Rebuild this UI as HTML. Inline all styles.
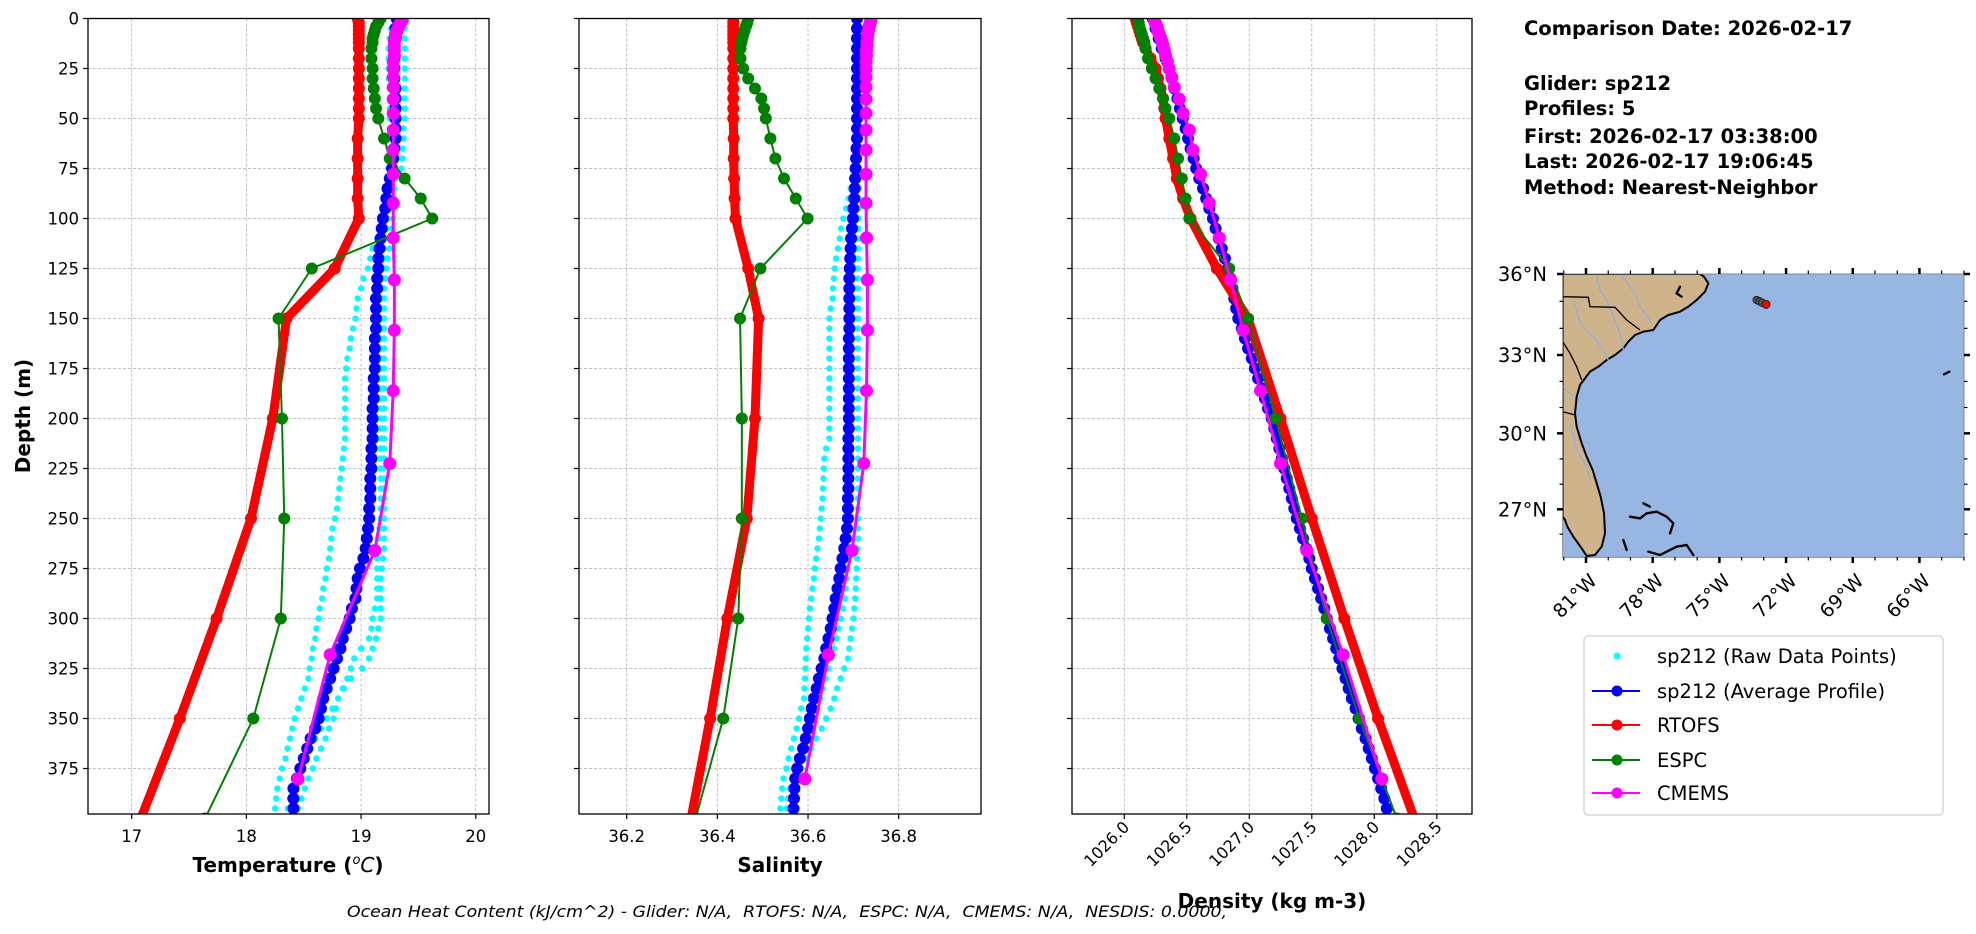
<!DOCTYPE html>
<html><head><meta charset="utf-8">
<style>
html,body{margin:0;padding:0;background:#fff;}
svg{display:block;font-family:"DejaVu Sans","Liberation Sans",sans-serif;}
</style></head>
<body>
<svg id="fig" xmlns="http://www.w3.org/2000/svg" width="1976" height="934" viewBox="0 0 1976 934">
<rect x="0" y="0" width="1976" height="934" fill="#fff"/>
<defs>
<clipPath id="c1"><rect x="88" y="18.5" width="401" height="795.5"/></clipPath>
<clipPath id="c2"><rect x="579" y="18.5" width="402" height="795.5"/></clipPath>
<clipPath id="c3"><rect x="1072" y="18.5" width="400" height="795.5"/></clipPath>
<clipPath id="cm"><rect x="248" y="72" width="1204" height="850"/></clipPath>
</defs>
<g id="panels"></g>
<g id="info" font-weight="bold" font-size="19.5" fill="#000">
<text x="1524" y="35">Comparison Date: 2026-02-17</text>
<text x="1524" y="90">Glider: sp212</text>
<text x="1524" y="115">Profiles: 5</text>
<text x="1524" y="143">First: 2026-02-17 03:38:00</text>
<text x="1524" y="168">Last: 2026-02-17 19:06:45</text>
<text x="1524" y="194">Method: Nearest-Neighbor</text>
</g>
<g>
<g transform="translate(1480,250) scale(0.33333)">
<rect x="248" y="72" width="1204" height="850" fill="#97b6e1"/>
<g clip-path="url(#cm)">
<path d="M248,72 L660,72 L672,80 L685,100 L675,125 L650,150 L625,170 L600,185 L565,195 L540,210 L520,240 L490,245 L465,255 L445,275 L430,295 L405,315 L380,330 L355,350 L330,365 L315,385 L300,405 L290,440 L285,490 L290,530 L305,580 L320,620 L338,660 L350,700 L362,740 L372,790 L375,850 L365,890 L345,915 L320,918 L305,895 L280,860 L262,830 L255,810 L248,800 Z" fill="#cfb38b" stroke="#000" stroke-width="6" stroke-linejoin="round"/>
<g fill="none" stroke="#8fb0dc" stroke-width="4">
<path d="M350,75 L360,120 L385,160 L400,200 L420,250 L430,300"/>
<path d="M425,75 L465,130 L480,170 L515,220"/>
<path d="M280,150 L300,220 L340,260 L370,300 L385,330"/>
<path d="M250,410 L280,440"/>
<path d="M270,520 L290,600 L320,650 L330,690"/>
</g>
<g fill="none" stroke="#000" stroke-width="4">
<path d="M248,140 L325,142 L330,170 L405,172 L440,210 L480,240"/>
<path d="M248,275 L270,310 L290,350 L305,390"/>
<path d="M248,485 L285,495"/>
</g>
<g fill="none" stroke="#000" stroke-width="7" stroke-linecap="round">
<path d="M450,800 L480,805 L500,790 L530,785 L560,800 L580,820 L570,850"/>
<path d="M490,760 L510,770"/>
<path d="M430,870 L440,900"/>
<path d="M505,905 L540,915 L590,890 L620,885 L640,915"/>
<path d="M1392,373 L1408,365"/>
<path d="M600,110 L590,130 L605,140"/>
</g>
<g stroke="#222" stroke-width="3">
<circle cx="830" cy="150" r="11" fill="#555"/>
<circle cx="838" cy="154" r="11" fill="#555"/>
<circle cx="846" cy="158" r="11" fill="#555"/>
<circle cx="858" cy="163" r="12" fill="#f00"/>
</g>
</g>
<rect x="248" y="72" width="1204" height="850" fill="none" stroke="#888" stroke-width="3"/>
</g>
<g id="mapticks"></g>
</g>
<g>
<rect x="1584" y="636" width="359" height="179" rx="4" fill="#fff" stroke="#d0d0d0" stroke-width="1.3"/>
<g font-size="19.5" fill="#000">
<g><circle cx="1617" cy="656" r="3.5" fill="#0ff"/><text x="1657" y="663">sp212 (Raw Data Points)</text></g>
<g><line x1="1592" y1="691" x2="1640" y2="691" stroke="#00f" stroke-width="2"/><circle cx="1617" cy="691" r="5.5" fill="#00f"/><text x="1657" y="698">sp212 (Average Profile)</text></g>
<g><line x1="1592" y1="725" x2="1640" y2="725" stroke="#f00" stroke-width="2"/><circle cx="1617" cy="725" r="5.5" fill="#f00"/><text x="1657" y="732">RTOFS</text></g>
<g><line x1="1592" y1="760" x2="1640" y2="760" stroke="#008000" stroke-width="2"/><circle cx="1617" cy="760" r="5.5" fill="#008000"/><text x="1657" y="767">ESPC</text></g>
<g><line x1="1592" y1="793" x2="1640" y2="793" stroke="#f0f" stroke-width="2"/><circle cx="1617" cy="793" r="5.5" fill="#f0f"/><text x="1657" y="800">CMEMS</text></g>
</g>
</g>
<text x="347" y="917" font-size="16" font-style="italic" textLength="880" lengthAdjust="spacingAndGlyphs" xml:space="preserve">Ocean Heat Content (kJ/cm^2) - Glider: N/A,  RTOFS: N/A,  ESPC: N/A,  CMEMS: N/A,  NESDIS: 0.0000,</text>
</svg>
<script>
// ---------------- DATA ----------------
const modelDepths = [0,2,4,6,8,10,12,15,20,25,30,35,40,45,50,60,70,80,90,100,125,150,200,250,300,350,400];
const cmemsDepths = [0.49,1.54,2.65,3.82,5.08,6.44,7.93,9.57,11.4,13.47,15.81,18.5,21.6,25.2,29.4,34.4,40.3,47.4,55.8,65.8,77.9,92.3,109.7,130.7,155.9,186.1,222.5,266.0,318.1,380.2];
const gliderDepths = [0,5,10,15,20,25,30,35,40,45,50,55,60,65,70,75,80,85,90,95,100,105,110,115,120,125,130,135,140,145,150,155,160,165,170,175,180,185,190,195,200,205,210,215,220,225,230,235,240,245,250,255,260,265,270,275,280,285,290,295,300,305,310,315,320,325,330,335,340,345,350,355,360,365,370,375,380,385,390,395];

// Temperature
const rtofsTemp = [18.97,18.98,18.98,18.98,18.98,18.98,18.98,18.98,18.98,18.98,18.98,18.98,18.98,18.98,18.98,18.97,18.97,18.97,18.97,18.98,18.77,18.35,18.23,18.04,17.74,17.42,17.08];
const espcTemp = [19.17,19.15,19.13,19.12,19.11,19.10,19.10,19.09,19.09,19.10,19.10,19.11,19.12,19.13,19.15,19.20,19.25,19.38,19.52,19.62,18.57,18.28,18.31,18.33,18.30,18.06,17.64];
const cmemsTemp = [19.36,19.35,19.34,19.33,19.32,19.31,19.30,19.30,19.29,19.29,19.29,19.29,19.28,19.28,19.28,19.28,19.28,19.28,19.28,19.28,19.28,19.28,19.28,19.29,19.29,19.28,19.25,19.12,18.73,18.45];
const gliderTemp = [19.31,19.30,19.29,19.29,19.29,19.29,19.29,19.30,19.30,19.30,19.30,19.30,19.30,19.29,19.28,19.27,19.25,19.23,19.22,19.21,19.19,19.18,19.17,19.16,19.15,19.15,19.14,19.14,19.13,19.13,19.13,19.13,19.12,19.12,19.12,19.12,19.11,19.11,19.11,19.10,19.10,19.10,19.10,19.09,19.09,19.09,19.08,19.08,19.08,19.07,19.07,19.06,19.05,19.04,19.02,18.99,18.97,18.96,18.95,18.92,18.90,18.87,18.84,18.82,18.79,18.76,18.73,18.70,18.67,18.65,18.63,18.60,18.56,18.53,18.50,18.47,18.44,18.41,18.41,18.41];
const rawTempA = [19.30,19.26,19.25,19.24,19.24,19.24,19.24,19.25,19.25,19.25,19.25,19.25,19.25,19.24,19.24,19.24,19.23,19.23,19.23,19.22,19.20,19.17,19.14,19.10,19.08,19.06,19.02,19.00,18.97,18.96,18.95,18.93,18.91,18.90,18.88,18.87,18.86,18.86,18.86,18.86,18.86,18.86,18.86,18.85,18.84,18.83,18.82,18.81,18.80,18.79,18.77,18.75,18.74,18.73,18.72,18.70,18.69,18.67,18.66,18.64,18.63,18.61,18.60,18.58,18.57,18.55,18.54,18.51,18.48,18.45,18.42,18.40,18.38,18.36,18.34,18.31,18.29,18.27,18.26,18.25];
const rawTempB = [19.39,19.38,19.38,19.38,19.38,19.38,19.38,19.38,19.38,19.38,19.38,19.37,19.37,19.36,19.36,19.35,19.30,19.29,19.29,19.28,19.28,19.27,19.26,19.25,19.23,19.22,19.21,19.20,19.20,19.20,19.20,19.20,19.20,19.20,19.20,19.20,19.20,19.20,19.20,19.20,19.20,19.20,19.20,19.20,19.20,19.20,19.20,19.20,19.20,19.20,19.20,19.20,19.20,19.20,19.19,19.18,19.17,19.17,19.17,19.17,19.17,19.15,19.13,19.10,19.07,19.01,18.91,18.85,18.80,18.78,18.76,18.72,18.69,18.65,18.61,18.58,18.54,18.51,18.48,18.45];
const rawTempC = [19.32,19.30,19.28,19.27,19.27,19.27,19.28,19.28,19.28,19.28,19.28,19.28,19.28,19.28,19.28,19.28,19.26,19.25,19.25,19.24,19.23,19.22,19.21,19.20,19.19,19.18,19.18,19.17,19.17,19.17,19.17,19.17,19.17,19.17,19.17,19.17,19.17,19.17,19.17,19.17,19.17,19.17,19.17,19.17,19.17,19.17,19.17,19.17,19.17,19.17,19.17,19.16,19.15,19.14,19.14,19.14,19.14,19.14,19.14,19.12,19.10,19.09,19.07,19.00,18.94,18.91,18.88,18.84,18.80,18.75,18.70,18.65,18.60,18.56,18.52,18.48,18.45,18.41,18.38,18.36];

// Salinity
const rtofsSal = [36.435,36.435,36.435,36.435,36.435,36.435,36.435,36.435,36.435,36.435,36.435,36.435,36.435,36.435,36.435,36.436,36.436,36.437,36.438,36.440,36.468,36.491,36.483,36.465,36.422,36.384,36.342];
const espcSal = [36.468,36.466,36.463,36.460,36.457,36.455,36.453,36.451,36.451,36.457,36.468,36.483,36.497,36.503,36.507,36.517,36.528,36.547,36.573,36.599,36.495,36.450,36.454,36.454,36.446,36.413,36.352];
const cmemsSal = [36.739,36.738,36.737,36.735,36.734,36.733,36.732,36.731,36.730,36.730,36.729,36.729,36.728,36.728,36.728,36.728,36.728,36.728,36.728,36.728,36.728,36.728,36.729,36.731,36.731,36.729,36.723,36.697,36.645,36.593];
const gliderSal = [36.708,36.708,36.708,36.708,36.708,36.708,36.708,36.708,36.708,36.708,36.708,36.708,36.708,36.707,36.706,36.705,36.704,36.703,36.702,36.700,36.699,36.697,36.695,36.694,36.693,36.692,36.691,36.691,36.691,36.691,36.691,36.691,36.690,36.690,36.690,36.690,36.690,36.690,36.690,36.690,36.690,36.690,36.689,36.689,36.689,36.689,36.689,36.689,36.688,36.688,36.688,36.686,36.683,36.680,36.676,36.672,36.669,36.665,36.661,36.658,36.654,36.650,36.645,36.640,36.636,36.630,36.624,36.619,36.613,36.608,36.604,36.600,36.595,36.589,36.582,36.576,36.572,36.570,36.569,36.568];
const rawSalA = [36.704,36.703,36.703,36.703,36.703,36.703,36.703,36.703,36.703,36.703,36.702,36.702,36.702,36.701,36.700,36.699,36.697,36.694,36.690,36.684,36.678,36.673,36.670,36.666,36.662,36.659,36.657,36.655,36.654,36.650,36.647,36.647,36.647,36.647,36.647,36.647,36.647,36.647,36.647,36.647,36.647,36.647,36.647,36.640,36.636,36.635,36.634,36.633,36.632,36.630,36.628,36.626,36.624,36.621,36.618,36.615,36.613,36.610,36.607,36.604,36.602,36.600,36.598,36.596,36.595,36.594,36.593,36.592,36.591,36.585,36.580,36.575,36.569,36.563,36.557,36.552,36.546,36.543,36.541,36.539];
const rawSalB = [36.712,36.712,36.712,36.712,36.712,36.712,36.712,36.712,36.712,36.712,36.712,36.712,36.712,36.712,36.712,36.712,36.712,36.712,36.711,36.711,36.711,36.711,36.711,36.710,36.710,36.710,36.710,36.710,36.710,36.710,36.710,36.710,36.710,36.710,36.710,36.710,36.710,36.710,36.710,36.710,36.710,36.710,36.710,36.710,36.710,36.710,36.710,36.710,36.710,36.710,36.710,36.710,36.710,36.709,36.708,36.707,36.706,36.705,36.704,36.702,36.700,36.697,36.694,36.691,36.688,36.680,36.672,36.664,36.658,36.650,36.640,36.630,36.618,36.607,36.596,36.585,36.575,36.565,36.560,36.556];
const rawSalC = [36.706,36.706,36.706,36.706,36.706,36.706,36.706,36.706,36.706,36.706,36.706,36.706,36.706,36.706,36.705,36.704,36.702,36.700,36.698,36.696,36.694,36.693,36.692,36.692,36.691,36.691,36.691,36.691,36.691,36.692,36.692,36.692,36.693,36.693,36.693,36.693,36.693,36.693,36.693,36.693,36.693,36.693,36.693,36.693,36.693,36.693,36.693,36.693,36.693,36.693,36.693,36.693,36.692,36.691,36.689,36.687,36.685,36.683,36.681,36.677,36.672,36.667,36.663,36.657,36.651,36.645,36.639,36.633,36.627,36.620,36.612,36.603,36.595,36.587,36.579,36.572,36.565,36.560,36.556,36.553];

// Density
const rtofsDens = [1026.09,1026.10,1026.11,1026.12,1026.13,1026.14,1026.15,1026.17,1026.21,1026.25,1026.27,1026.29,1026.31,1026.32,1026.33,1026.36,1026.39,1026.42,1026.47,1026.53,1026.74,1026.99,1027.25,1027.50,1027.76,1028.03,1028.32];
const espcDens = [1026.11,1026.115,1026.12,1026.13,1026.14,1026.15,1026.16,1026.17,1026.19,1026.22,1026.25,1026.28,1026.31,1026.33,1026.36,1026.40,1026.43,1026.46,1026.49,1026.52,1026.84,1026.99,1027.21,1027.42,1027.62,1027.88,1028.18];
const cmemsDens = [1026.24,1026.245,1026.25,1026.26,1026.265,1026.27,1026.28,1026.29,1026.30,1026.31,1026.32,1026.33,1026.345,1026.36,1026.38,1026.40,1026.44,1026.47,1026.52,1026.55,1026.61,1026.68,1026.76,1026.85,1026.95,1027.09,1027.25,1027.46,1027.75,1028.06];
const gliderDens = [1026.227,1026.25,1026.275,1026.30,1026.33,1026.36,1026.38,1026.40,1026.425,1026.445,1026.468,1026.49,1026.51,1026.53,1026.555,1026.575,1026.60,1026.63,1026.655,1026.68,1026.709,1026.73,1026.755,1026.78,1026.805,1026.829,1026.85,1026.865,1026.88,1026.895,1026.912,1026.94,1026.965,1026.99,1027.02,1027.045,1027.07,1027.10,1027.125,1027.15,1027.179,1027.20,1027.22,1027.24,1027.26,1027.28,1027.30,1027.32,1027.34,1027.36,1027.38,1027.405,1027.43,1027.455,1027.48,1027.50,1027.525,1027.55,1027.575,1027.60,1027.62,1027.645,1027.67,1027.695,1027.72,1027.745,1027.77,1027.795,1027.82,1027.85,1027.874,1027.90,1027.93,1027.955,1027.98,1028.005,1028.03,1028.055,1028.08,1028.10];
const rawDensA = [1026.22,1026.24,1026.27,1026.29,1026.32,1026.35,1026.37,1026.39,1026.42,1026.44,1026.46,1026.48,1026.50,1026.52,1026.55,1026.57,1026.59,1026.62,1026.65,1026.67,1026.70,1026.72,1026.75,1026.77,1026.80,1026.82,1026.84,1026.86,1026.87,1026.89,1026.90,1026.93,1026.96,1026.98,1027.01,1027.04,1027.06,1027.09,1027.12,1027.14,1027.17,1027.19,1027.21,1027.23,1027.25,1027.27,1027.29,1027.31,1027.33,1027.35,1027.37,1027.40,1027.42,1027.45,1027.47,1027.49,1027.52,1027.54,1027.57,1027.59,1027.61,1027.64,1027.66,1027.69,1027.71,1027.74,1027.76,1027.79,1027.81,1027.84,1027.87,1027.89,1027.92,1027.95,1027.97,1028.00,1028.02,1028.05,1028.07,1028.09];
const rawDensB = [1026.24,1026.26,1026.29,1026.31,1026.34,1026.37,1026.39,1026.41,1026.43,1026.45,1026.48,1026.50,1026.52,1026.54,1026.56,1026.59,1026.61,1026.64,1026.66,1026.69,1026.72,1026.74,1026.77,1026.79,1026.82,1026.84,1026.86,1026.88,1026.89,1026.91,1026.93,1026.95,1026.98,1027.00,1027.03,1027.06,1027.08,1027.11,1027.14,1027.16,1027.19,1027.21,1027.23,1027.25,1027.27,1027.29,1027.31,1027.33,1027.35,1027.37,1027.39,1027.42,1027.44,1027.47,1027.49,1027.51,1027.54,1027.56,1027.59,1027.61,1027.63,1027.66,1027.68,1027.71,1027.73,1027.76,1027.78,1027.81,1027.83,1027.86,1027.89,1027.91,1027.94,1027.97,1027.99,1028.02,1028.04,1028.07,1028.09,1028.11];

// Ticks
const depthTicks = [0,25,50,75,100,125,150,175,200,225,250,275,300,325,350,375];
const tempTicks = [17,18,19,20];
const tempTickLabels = ["17","18","19","20"];
const salTicks = [36.2,36.4,36.6,36.8];
const salTickLabels = ["36.2","36.4","36.6","36.8"];
const densTicks = [1026.0,1026.5,1027.0,1027.5,1028.0,1028.5];
const densTickLabels = ["1026.0","1026.5","1027.0","1027.5","1028.0","1028.5"];
const lonTicks = [-81,-78,-75,-72,-69,-66];
const lonTickLabels = ["81°W","78°W","75°W","72°W","69°W","66°W"];
const latTicks = [36,33,30,27];
const latTickLabels = ["36°N","33°N","30°N","27°N"];

// ---------------- DRAW ----------------
const NS = "http://www.w3.org/2000/svg";
function mk(tag, attrs, parent){ const e=document.createElementNS(NS,tag); for(const k in attrs) e.setAttribute(k,attrs[k]); parent.appendChild(e); return e; }
const TOP=18.5, BOT=814, PXM=2.0;
const yD = d => TOP + d*PXM;
const panelsG = document.getElementById('panels');

const panels = [
 {key:'temperature', x0:88, x1:489, clip:'c1', fx:v=>131.7+(v-17)*114.7, ticks:tempTicks, labels:tempTickLabels, rot:false, ylabels:true, title:'Temperature', titleX:288,
  raw:[rawTempA,rawTempB,rawTempC], glider:gliderTemp, rtofs:rtofsTemp, espc:espcTemp, cmems:cmemsTemp},
 {key:'salinity', x0:579, x1:981, clip:'c2', fx:v=>626.7+(v-36.2)*453.3, ticks:salTicks, labels:salTickLabels, rot:false, ylabels:false, title:'Salinity', titleX:780,
  raw:[rawSalA,rawSalB,rawSalC], glider:gliderSal, rtofs:rtofsSal, espc:espcSal, cmems:cmemsSal},
 {key:'density', x0:1072, x1:1472, clip:'c3', fx:v=>1124.3+(v-1026)*125, ticks:densTicks, labels:densTickLabels, rot:true, ylabels:false, title:'Density (kg m-3)', titleX:1272,
  raw:[rawDensA,rawDensB], glider:gliderDens, rtofs:rtofsDens, espc:espcDens, cmems:cmemsDens}
];

function series(g, name, depths, vals, fx, color, lw, r, withLine){
  const sg = mk('g',{},g);
  
  
  if(withLine){
    const pts = vals.map((v,i)=>fx(v).toFixed(2)+','+yD(depths[i]).toFixed(2)).join(' ');
    const pl = mk('polyline',{points:pts,fill:'none',stroke:color,'stroke-width':lw,'stroke-linejoin':'round'},sg);
    
    
  }
  vals.forEach((v,i)=>{
    const c = mk('circle',{cx:fx(v).toFixed(2),cy:yD(depths[i]).toFixed(2),r:r,fill:color},sg);
    
    
  });
}

panels.forEach(p=>{
  const g = mk('g',{},panelsG);
  
  
  // grid
  const grid = mk('g',{stroke:'#b0b0b0','stroke-width':0.8,'stroke-dasharray':'3,2'},g);
  
  
  depthTicks.forEach(d=>{ mk('line',{x1:p.x0,x2:p.x1,y1:yD(d),y2:yD(d)},grid); });
  p.ticks.forEach(t=>{ mk('line',{x1:p.fx(t),x2:p.fx(t),y1:TOP,y2:BOT},grid); });
  // data
  const dg = mk('g',{'clip-path':'url(#'+p.clip+')'},g);
  p.raw.forEach((arr,k)=>{ series(dg, p.key+'-raw-profile-'+(k+1), gliderDepths, arr, p.fx, '#00ffff', 0, 3.2, false); });
  series(dg, p.key+'-glider-average', gliderDepths, p.glider, p.fx, '#0000ff', 2, 6, true);
  series(dg, p.key+'-rtofs', modelDepths, p.rtofs, p.fx, '#ff0000', 9, 6, true);
  series(dg, p.key+'-espc', modelDepths, p.espc, p.fx, '#008000', 2, 6, true);
  series(dg, p.key+'-cmems', cmemsDepths, p.cmems, p.fx, '#ff00ff', 3, 6.5, true);
  // frame
  const fr = mk('rect',{x:p.x0,y:TOP,width:p.x1-p.x0,height:BOT-TOP,fill:'none',stroke:'#000','stroke-width':1.3},g);
  
  
  // y ticks
  const yt = mk('g',{stroke:'#000','stroke-width':1.2},g);
  
  
  depthTicks.forEach(d=>{ mk('line',{x1:p.x0-5,x2:p.x0,y1:yD(d),y2:yD(d)},yt); });
  if(p.ylabels){
    depthTicks.forEach(d=>{
      const t = mk('text',{x:p.x0-9,y:yD(d)+6,'text-anchor':'end','font-size':16.5},g);
      t.textContent = String(d);
      
      
    });
  }
  // x ticks
  const xt = mk('g',{stroke:'#000','stroke-width':1.2},g);
  
  
  p.ticks.forEach((v,i)=>{
    const x = p.fx(v);
    mk('line',{x1:x,x2:x,y1:BOT,y2:BOT+5},xt);
    let t;
    if(p.rot){
      t = mk('text',{x:x+6,y:BOT+14,'text-anchor':'end','font-size':16,transform:'rotate(-45 '+(x+6)+' '+(BOT+14)+')'},g);
    } else {
      t = mk('text',{x:x,y:BOT+28,'text-anchor':'middle','font-size':16.5},g);
    }
    t.textContent = p.labels[i];
    
    
  });
  // title
  const tt = mk('text',{x:p.titleX,y:p.rot?908:872,'text-anchor':'middle','font-size':20,'font-weight':'bold'},g);
  if(p.key==='temperature'){
    tt.appendChild(document.createTextNode('Temperature ('));
    const s1 = mk('tspan',{'font-style':'italic','font-weight':'normal','font-size':13,dy:-8},tt); s1.textContent='o';
    const s2 = mk('tspan',{'font-style':'italic','font-weight':'normal',dy:8},tt); s2.textContent='C';
    tt.appendChild(document.createTextNode(')'));
  } else { tt.textContent = p.title; }
  
  
});
const yl = mk('text',{x:0,y:0,'text-anchor':'middle','font-size':20,'font-weight':'bold',transform:'translate(30,416) rotate(-90)'},panelsG);
yl.textContent = 'Depth (m)';



// Map ticks
const mt = document.getElementById('mapticks');
const MX0=1563, MX1=1964, MY0=274, MY1=557;
const lonX = lon => 1586 + (lon+81)*22.23;
const merc = lat => Math.log(Math.tan(Math.PI/4 + lat*Math.PI/360));
const latY = lat => 274 + (merc(36)-merc(lat))/(merc(36)-merc(27))*(509.3-274);
const tg = mk('g',{stroke:'#000'},mt);


for(let lon=-82; lon<=-64; lon++){
  const x=lonX(lon); if(x<MX0-0.5||x>MX1+0.5) continue;
  const major = lonTicks.indexOf(lon)>=0; const L = major?6:3.5; const w = major?2.5:1.2;
  mk('line',{x1:x,x2:x,y1:MY1,y2:MY1+L,'stroke-width':w},tg);
  mk('line',{x1:x,x2:x,y1:MY0,y2:MY0-L,'stroke-width':w},tg);
}
for(let lat=25; lat<=36; lat++){
  const y=latY(lat); if(y<MY0-0.5||y>MY1+0.5) continue;
  const major = latTicks.indexOf(lat)>=0; const L = major?6:3.5; const w = major?2.5:1.2;
  mk('line',{x1:MX0,x2:MX0-L,y1:y,y2:y,'stroke-width':w},tg);
  mk('line',{x1:MX1,x2:MX1+L,y1:y,y2:y,'stroke-width':w},tg);
}
lonTicks.forEach((lon,i)=>{
  const x=lonX(lon)+12, y=582;
  const t = mk('text',{x:x,y:y,'text-anchor':'end','font-size':19,transform:'rotate(-45 '+x+' '+y+')'},mt);
  t.textContent = lonTickLabels[i];
  
  
});
latTicks.forEach((lat,i)=>{
  const t = mk('text',{x:1547,y:latY(lat)+7,'text-anchor':'end','font-size':19.5},mt);
  t.textContent = latTickLabels[i];
  
  
});
</script>
</body></html>
